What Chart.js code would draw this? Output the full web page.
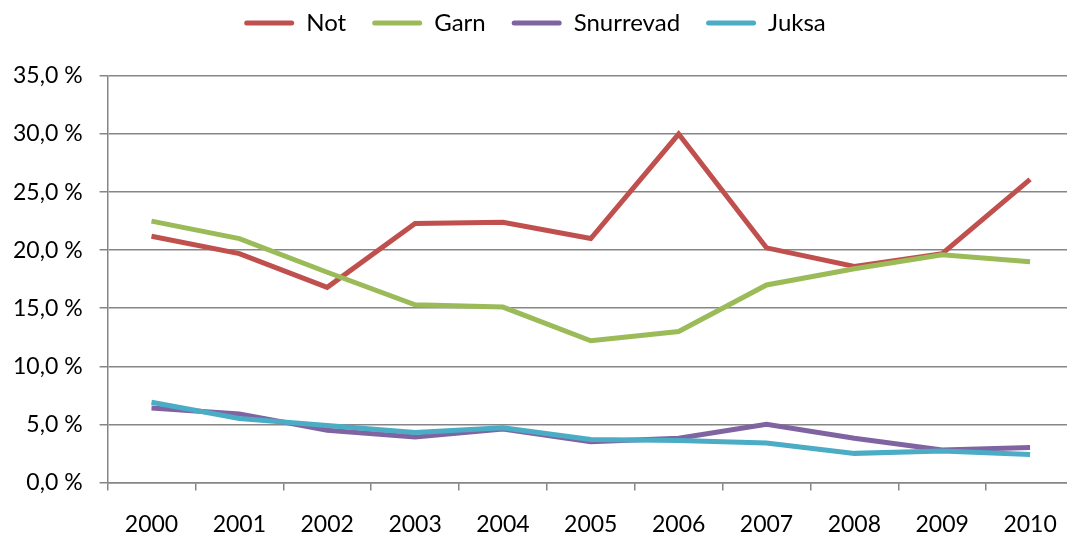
<!DOCTYPE html>
<html>
<head>
<meta charset="utf-8">
<script src="https://cdn.jsdelivr.net/npm/chart.js@4/dist/chart.umd.min.js"></script>
<style>
html,body{margin:0;padding:0;background:#fff;overflow:hidden;}
#wrap{width:1067px;height:535px;position:relative;overflow:hidden;}
#c{display:block;width:1074px;height:535px;}
</style>
</head>
<body>
<div id="wrap"><canvas id="c" width="1074" height="535"></canvas></div>
<script>
const years = ['2000','2001','2002','2003','2004','2005','2006','2007','2008','2009','2010'];
const seriesNames = ['Not','Garn','Snurrevad','Juksa'];
const notValues = [21.2, 19.7, 16.8, 22.3, 22.4, 21.0, 30.0, 20.2, 18.6, 19.7, 26.1];
const garnValues = [22.5, 21.0, 18.1, 15.3, 15.1, 12.2, 13.0, 17.0, 18.4, 19.6, 19.0];
const snurrevadValues = [6.4, 5.9, 4.5, 3.9, 4.6, 3.5, 3.8, 5.0, 3.8, 2.8, 3.0];
const juksaValues = [6.9, 5.5, 4.9, 4.3, 4.7, 3.7, 3.6, 3.4, 2.5, 2.7, 2.4];
const colors = ['#C0504D','#9BBB59','#8064A2','#4BACC6'];
const allValues = [notValues, garnValues, snurrevadValues, juksaValues];

const FONT = 'Lato, "Open Sans", sans-serif';

const legendGap = {
  id: 'legendGap',
  afterInit(chart) {
    const lg = chart.legend;
    if (lg && !lg._patched) {
      const orig = lg.fit;
      lg.fit = function () { orig.call(this); this.height += 31; };
      lg._patched = true;
    }
  }
};

new Chart(document.getElementById('c'), {
  type: 'line',
  data: {
    labels: years,
    datasets: seriesNames.map((n, i) => ({
      label: n,
      data: allValues[i],
      borderColor: colors[i],
      backgroundColor: colors[i],
      borderWidth: 5,
      pointRadius: 0,
      tension: 0,
      fill: false,
      order: 4 - i
    }))
  },
  plugins: [legendGap],
  options: {
    responsive: false,
    animation: false,
    devicePixelRatio: 1,
    layout: { padding: { left: -4, right: 0, top: -15, bottom: -23 } },
    plugins: {
      legend: {
        position: 'top',
        labels: {
          boxWidth: 50,
          boxHeight: 5,
          padding: 26,
          color: '#000',
          font: { family: FONT, size: 24 },
          sort: (a, b) => a.datasetIndex - b.datasetIndex,
          generateLabels: chart => Chart.defaults.plugins.legend.labels.generateLabels(chart)
            .map(l => Object.assign({}, l, { lineWidth: 0, borderRadius: 2.5 }))
        }
      },
      tooltip: { enabled: false }
    },
    scales: {
      x: {
        offset: true,
        afterFit: s => { s.paddingRight = 0; s.paddingLeft = 0; },
        grid: { display: true, drawOnChartArea: false, offset: true, color: '#868686', lineWidth: 1.5, tickLength: 8 },
        border: { color: '#868686', width: 1.5 },
        ticks: { color: '#000', font: { family: FONT, size: 23 }, padding: 20, maxRotation: 0 }
      },
      y: {
        min: 0,
        max: 35,
        grid: { color: '#868686', lineWidth: 1.5, tickLength: 8 },
        border: { color: '#868686', width: 1.5 },
        ticks: {
          stepSize: 5,
          color: '#000',
          padding: 17,
          font: { family: FONT, size: 23 },
          callback: v => v.toFixed(1).replace('.', ',') + ' %'
        }
      }
    }
  }
});
</script>
</body>
</html>
